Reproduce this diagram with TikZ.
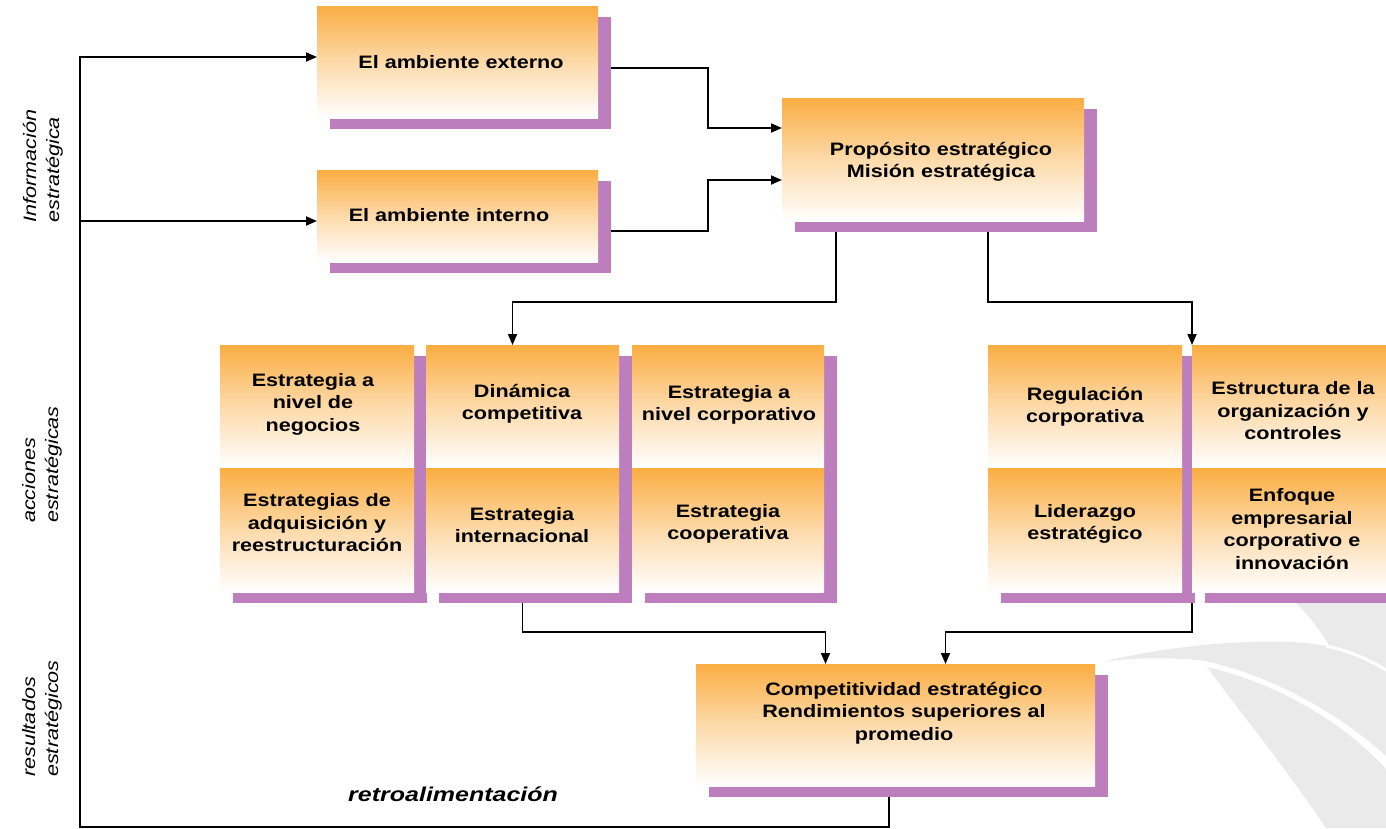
\documentclass[tikz,border=0pt]{standalone}
\usepackage{fontspec}
\setmainfont{Liberation Sans}[FakeStretch=1.2]
\newfontfamily\retrofont{Liberation Sans}[FakeStretch=1.25]
\usetikzlibrary{arrows.meta,calc}
\definecolor{orng}{RGB}{250,173,66}
\definecolor{shadcol}{RGB}{189,126,190}
\definecolor{leafcol}{RGB}{234,234,234}
\tikzset{
 shadowbox/.style={fill=shadcol, draw=none, anchor=north west, inner sep=0, outer sep=0},
 gradbox/.style={top color=orng, bottom color=white, middle color=orng!45!white, draw=none, anchor=north west, inner sep=0, outer sep=0},
 boxtext/.style={font=\bfseries\fontsize{18}{22.5}\selectfont, align=center, inner sep=0},
 sidetext/.style={font=\itshape\fontsize{18}{23}\selectfont, rotate=90, anchor=base west, inner sep=0},
 conn/.style={line width=1.8pt, draw=black},
 arr/.style={conn, -{Triangle[length=11pt,width=9pt]}},
}
\newcommand\gbox[5]{%
  \node[shadowbox, minimum width={#4-#2}, minimum height={#5-#3}] (s#1) at ({#2+13},{#3+11}) {};
  \node[gradbox, minimum width={#4-#2}, minimum height={#5-#3}] (#1) at (#2,#3) {};
}
\begin{document}
\begin{tikzpicture}[x=1pt,y=-1pt]
\useasboundingbox (0,0) rectangle (1386,828);
\fill[white] (0,0) rectangle (1386,828);
% background leaf decoration
\fill[leafcol] (1103,662) .. controls (1180,642) and (1290,636) .. (1330,647)
  .. controls (1320,630) and (1308,614) .. (1293,600) -- (1386,600) -- (1386,756)
  .. controls (1340,714) and (1270,674) .. (1200,660)
  .. controls (1160,657) and (1130,658) .. (1103,662) -- cycle;
\draw[white, line width=3pt] (1326,646) .. controls (1350,651) and (1370,660) .. (1386,670);
\fill[leafcol] (1207,667) .. controls (1280,684) and (1345,724) .. (1386,769)
  -- (1386,828) -- (1326,828) .. controls (1280,760) and (1240,712) .. (1207,667) -- cycle;
% boxes
\gbox{b1}{317}{6}{598}{118}
\gbox{b2}{317}{170}{598}{262}
\gbox{b3}{782}{98}{1084}{221}
\gbox{bA1}{220}{345}{414}{468}
\gbox{bB1}{426}{345}{619}{468}
\gbox{bC1}{632}{345}{824}{468}
\gbox{bD1}{988}{345}{1182}{468}
\gbox{bE1}{1192}{345}{1386}{468}
\gbox{bA2}{220}{468}{414}{592}
\gbox{bB2}{426}{468}{619}{592}
\gbox{bC2}{632}{468}{824}{592}
\gbox{bD2}{988}{468}{1182}{592}
\gbox{bE2}{1192}{468}{1386}{592}
\gbox{bb}{696}{664}{1095}{786}
% box texts
\node[boxtext] (t1) at (461,62) {El ambiente externo};
\node[boxtext] (t2) at (449,215) {El ambiente interno};
\node[boxtext] (t3) at (941,162) {Propósito estratégico\\Misión estratégica};
\node[boxtext] (tA1) at (313,404) {Estrategia a\\nivel de\\negocios};
\node[boxtext] (tB1) at (522,404) {Dinámica\\competitiva};
\node[boxtext] (tC1) at (729,405) {Estrategia a\\nivel corporativo};
\node[boxtext] (tA2) at (317,523) {Estrategias de\\adquisición y\\reestructuración};
\node[boxtext] (tB2) at (522,525) {Estrategia\\internacional};
\node[boxtext] (tC2) at (728,524) {Estrategia\\cooperativa};
\node[boxtext] (tD1) at (1085,407) {Regulación\\corporativa};
\node[boxtext] (tE1) at (1293,411) {Estructura de la\\organización y\\controles};
\node[boxtext] (tD2) at (1085,524) {Liderazgo\\estratégico};
\node[boxtext] (tE2) at (1292,529) {Enfoque\\empresarial\\corporativo e\\innovación};
\node[boxtext] (t5) at (904,713) {Competitividad estratégico\\Rendimientos superiores al\\promedio};
% side labels
\node[sidetext] (L1) at (36,223) {\begin{tabular}[t]{@{}l@{}}Información\\estratégica\end{tabular}};
\node[sidetext] (L2) at (35,523) {\begin{tabular}[t]{@{}l@{}}acciones\\estratégicas\end{tabular}};
\node[sidetext] (L3) at (35,777) {\begin{tabular}[t]{@{}l@{}}resultados\\estratégicos\end{tabular}};
\node[font=\retrofont\bfseries\itshape\fontsize{20}{24}\selectfont, anchor=base west, inner sep=0] (fbt) at (348,801) {retroalimentación};
% connector helpers
\coordinate (lft) at (80,827);
\coordinate (r1) at (0,302);
\coordinate (r2) at (0,632);
\coordinate (k1) at (708,0);
\coordinate (fbs) at ([xshift=-19.5pt]sbb.south);
\coordinate (b1in) at ([yshift=5pt]b1.west);
\coordinate (b2in) at ([yshift=-5pt]b2.west);
\coordinate (o1) at ([yshift=5pt]sb1.east);
\coordinate (i1) at ([yshift=31.5pt]b3.west);
\coordinate (o2) at ([yshift=-4pt]sb2.east);
\coordinate (i2) at ([yshift=-20.5pt]b3.west);
\coordinate (o3) at ([xshift=-110pt]sb3.south);
\coordinate (i3) at ([xshift=-10pt]bB1.north);
\coordinate (o4) at ([xshift=42pt]sb3.south);
\coordinate (o5) at (bB2.south |- sbB2.south);
\coordinate (i5) at ([xshift=-70pt]bb.north);
\coordinate (o6) at (bE2.south west |- sbD2.south);
\coordinate (i6) at ([xshift=50pt]bb.north);
% connectors
\draw[arr] (fbs) |- (lft) |- (b1in);
\draw[arr] (lft |- b2in) -- (b2in);
\draw[arr] (o1) -- (o1 -| k1) |- (i1);
\draw[arr] (o2) -- (o2 -| k1) |- (i2);
\draw[arr] (o3) -- (o3 |- r1) -| (i3);
\draw[arr] (o4) -- (o4 |- r1) -| (bE1.north west);
\draw[arr] (o5) -- (o5 |- r2) -| (i5);
\draw[arr] (o6) -- (o6 |- r2) -| (i6);
\end{tikzpicture}
\end{document}
